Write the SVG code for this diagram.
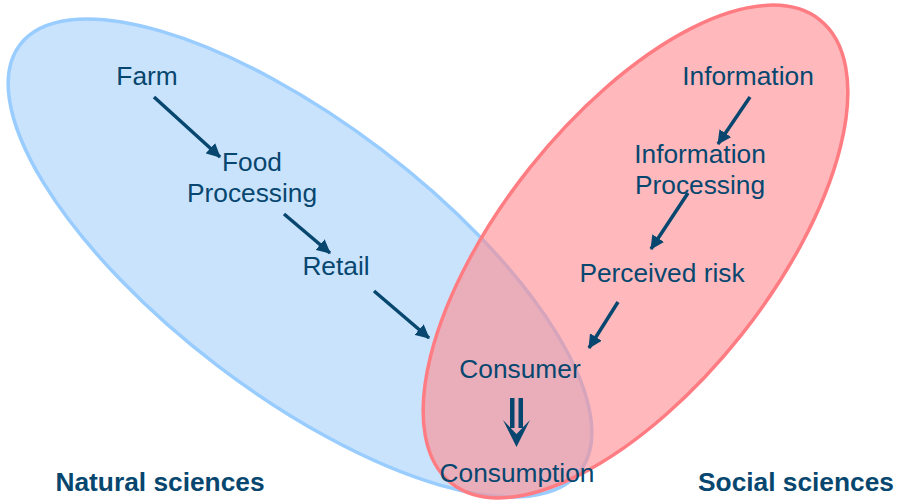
<svg xmlns="http://www.w3.org/2000/svg" width="901" height="502" viewBox="0 0 901 502">
<defs>
<style>
.t{font-family:"Liberation Sans",Arial,sans-serif;font-size:26.3px;fill:#07476f;text-anchor:middle}
.b{font-weight:bold}
.c{stroke:#07476f;stroke-width:3.5;fill:none;marker-end:url(#ah)}
</style>
<marker id="ah" markerUnits="userSpaceOnUse" markerWidth="16" markerHeight="14" refX="13" refY="7" orient="auto">
<path d="M0,0 L14,7 L0,14 Z" fill="#07476f"/>
</marker>
</defs>
<rect width="901" height="502" fill="#ffffff"/>
<g id="natural-sciences-ellipse">
<ellipse cx="300" cy="258" rx="352" ry="135.6" transform="rotate(37.3 300 258)" fill="#cae3fd" stroke="#99ccff" stroke-width="3.5"/>
</g>
<g id="social-sciences-ellipse">
<ellipse cx="635.5" cy="251.5" rx="296" ry="134.8" transform="rotate(-51.5 635.5 251.5)" fill="#ff8a90" fill-opacity="0.6" stroke="#ff7c82" stroke-width="3.5"/>
</g>
<g id="connectors">
<line class="c" x1="154" y1="97" x2="220" y2="157"/>
<line class="c" x1="284" y1="214" x2="330" y2="253"/>
<line class="c" x1="374" y1="291" x2="429" y2="338"/>
<line class="c" x1="750" y1="97" x2="718" y2="144"/>
<line class="c" x1="688" y1="193" x2="651" y2="249"/>
<line class="c" x1="618" y1="302" x2="589" y2="348"/>
<g id="double-arrow" fill="#07476f">
<rect x="510" y="398" width="4.5" height="30"/>
<rect x="518.5" y="398" width="4.5" height="30"/>
<path d="M503,420 L516.5,447 L530,420 L516.5,434 Z"/>
</g>
</g>
<g id="farm"><text class="t" x="147" y="85">Farm</text></g>
<g id="food-processing"><text class="t" x="252" y="171">Food</text><text class="t" x="252" y="202">Processing</text></g>
<g id="retail"><text class="t" x="336" y="275">Retail</text></g>
<g id="information"><text class="t" x="748" y="85">Information</text></g>
<g id="information-processing"><text class="t" x="700" y="163">Information</text><text class="t" x="700" y="194">Processing</text></g>
<g id="perceived-risk"><text class="t" x="662" y="282">Perceived risk</text></g>
<g id="consumer"><text class="t" x="520" y="378">Consumer</text></g>
<g id="consumption"><text class="t" x="517" y="482">Consumption</text></g>
<g id="label-natural"><text class="t b" x="160" y="491">Natural sciences</text></g>
<g id="label-social"><text class="t b" x="796" y="491">Social sciences</text></g>
</svg>
